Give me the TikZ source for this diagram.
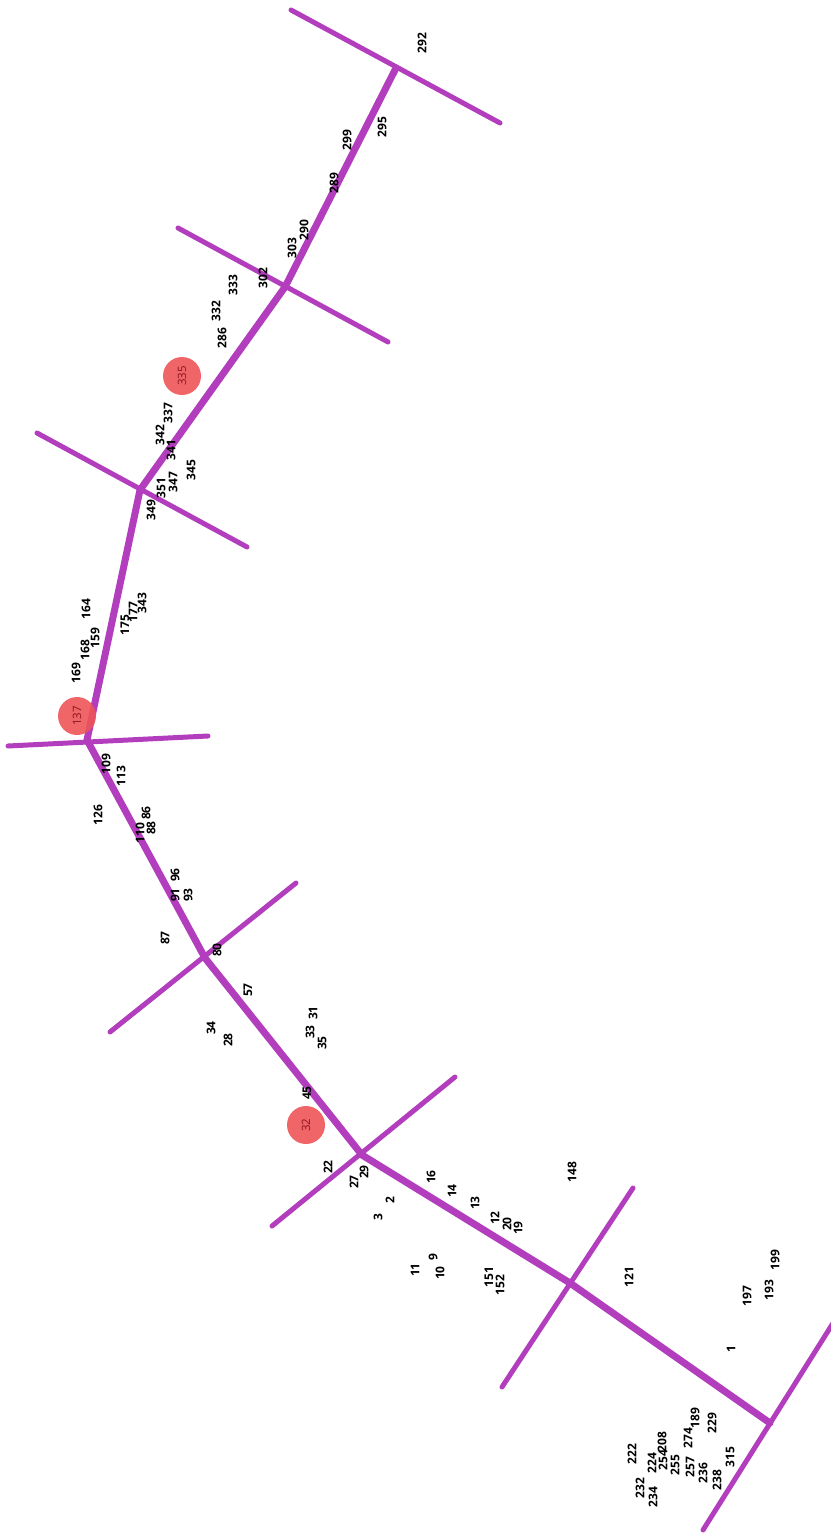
\documentclass[tikz,border=0pt]{standalone}
\usepackage{fontspec}
\setmainfont{Open Sans}
\usepackage{tikz}

\definecolor{wire}{RGB}{178,62,190}
\definecolor{spot}{RGB}{238,84,88}
\definecolor{spottext}{RGB}{140,20,30}

\tikzset{
 lbl/.style={rotate=90, inner sep=0pt, font=\bfseries\fontsize{12}{12}\selectfont},
 trunk/.style={wire, line width=7pt, line cap=round, line join=round},
 bar/.style={wire, line width=5pt, line cap=round},
 hot/.style={circle, fill=spot, fill opacity=0.9, text opacity=1, minimum size=38pt, inner sep=0pt, rotate=90, text=spottext, font=\fontsize{11.5}{11.5}\selectfont}
}

\begin{document}
\begin{tikzpicture}[x=1pt, y=-1pt]
 \useasboundingbox (0,0) rectangle (830,1533); % 枠

 \coordinate (j1) at (396,68); % 交点
 \coordinate (j2) at (285,287);
 \coordinate (j3) at (140,490);
 \coordinate (j4) at (87,740);
 \coordinate (j5) at (205,958);
 \coordinate (j6) at (362,1155);
 \coordinate (j7) at (570,1283);
 \coordinate (j8) at (770,1423);

 \coordinate (a1) at (291,10); \coordinate (b1) at (500,123); % 横棒の端
 \coordinate (a2) at (178,228); \coordinate (b2) at (388,342);
 \coordinate (a3) at (37,433); \coordinate (b3) at (247,547);
 \coordinate (a4) at (8,746); \coordinate (b4) at (208,736);
 \coordinate (a5) at (110,1032); \coordinate (b5) at (296,883);
 \coordinate (a6) at (272,1226); \coordinate (b6) at (455,1077);
 \coordinate (a7) at (502,1387); \coordinate (b7) at (633,1188);
 \coordinate (a8) at (703,1530); \coordinate (b8) at (840,1312);

 \draw[bar] (a1) -- (b1); % 横棒
 \draw[bar] (a2) -- (b2);
 \draw[bar] (a3) -- (b3);
 \draw[bar] (a4) -- (b4);
 \draw[bar] (a5) -- (b5);
 \draw[bar] (a6) -- (b6);
 \draw[bar] (a7) -- (b7);
 \draw[bar] (a8) -- (b8);

 \draw[trunk] (j1) -- (j2) -- (j3) -- (j4) -- (j5) -- (j6) -- (j7) -- (j8); % 幹線

 \node[hot] (h335) at (182,376) {335}; % 赤丸
 \node[hot] (h137) at (77,716) {137};
 \node[hot] (h32) at (306,1125) {32};

 % 上の区間
 \node[lbl] (n292) at (422,43) {292};
 \node[lbl] (n295) at (382,127) {295};
 \node[lbl] (n299) at (347,140) {299};
 \node[lbl] (n289) at (334,183) {289};
 \node[lbl] (n290) at (304,230) {290};
 \node[lbl] (n303) at (292,248) {303};
 \node[lbl] (n302) at (263,278) {302};
 \node[lbl] (n333) at (233,285) {333};
 \node[lbl] (n332) at (216,311) {332};
 \node[lbl] (n286) at (222,338) {286};
 \node[lbl] (n337) at (168,413) {337};
 \node[lbl] (n342) at (160,435) {342};
 \node[lbl] (n341) at (171,450) {341};
 \node[lbl] (n345) at (191,470) {345};
 \node[lbl] (n347) at (173,482) {347};
 \node[lbl] (n351) at (161,488) {351};
 \node[lbl] (n349) at (151,510) {349};

 % 中の区間
 \node[lbl] (n164) at (86,609) {164};
 \node[lbl] (n343) at (142,603) {343};
 \node[lbl] (n177) at (133,612) {177};
 \node[lbl] (n175) at (125,625) {175};
 \node[lbl] (n159) at (95,638) {159};
 \node[lbl] (n168) at (85,650) {168};
 \node[lbl] (n169) at (76,673) {169};
 \node[lbl] (n109) at (106,764) {109};
 \node[lbl] (n113) at (121,776) {113};
 \node[lbl] (n126) at (98,815) {126};
 \node[lbl] (n86) at (146,813) {86};
 \node[lbl] (n110) at (140,833) {110};
 \node[lbl] (n88) at (151,828) {88};
 \node[lbl] (n96) at (175,875) {96};
 \node[lbl] (n91) at (175,895) {91};
 \node[lbl] (n93) at (188,895) {93};
 \node[lbl] (n87) at (165,938) {87};
 \node[lbl] (n80) at (217,950) {80};
 \node[lbl] (n57) at (248,990) {57};
 \node[lbl] (n34) at (211,1028) {34};
 \node[lbl] (n28) at (228,1040) {28};
 \node[lbl] (n31) at (313,1013) {31};
 \node[lbl] (n33) at (310,1032) {33};
 \node[lbl] (n35) at (322,1043) {35};
 \node[lbl] (n45) at (307,1093) {45};

 % 下の区間
 \node[lbl] (n22) at (328,1167) {22};
 \node[lbl] (n27) at (354,1182) {27};
 \node[lbl] (n29) at (364,1172) {29};
 \node[lbl] (n16) at (431,1177) {16};
 \node[lbl] (n2) at (390,1200) {2};
 \node[lbl] (n14) at (452,1191) {14};
 \node[lbl] (n3) at (378,1217) {3};
 \node[lbl] (n13) at (475,1203) {13};
 \node[lbl] (n12) at (495,1218) {12};
 \node[lbl] (n20) at (507,1224) {20};
 \node[lbl] (n19) at (518,1228) {19};
 \node[lbl] (n9) at (433,1257) {9};
 \node[lbl] (n11) at (415,1270) {11};
 \node[lbl] (n10) at (440,1273) {10};
 \node[lbl] (n151) at (489,1277) {151};
 \node[lbl] (n152) at (500,1285) {152};
 \node[lbl] (n148) at (572,1172) {148};
 \node[lbl] (n121) at (629,1277) {121};
 \node[lbl] (n199) at (775,1260) {199};
 \node[lbl] (n197) at (747,1296) {197};
 \node[lbl] (n193) at (769,1290) {193};
 \node[lbl] (n1) at (731,1349) {1};

 % 末端
 \node[lbl] (n189) at (695,1418) {189};
 \node[lbl] (n229) at (712,1423) {229};
 \node[lbl] (n274) at (688,1438) {274};
 \node[lbl] (n208) at (662,1442) {208};
 \node[lbl] (n222) at (632,1454) {222};
 \node[lbl] (n224) at (652,1463) {224};
 \node[lbl] (n254) at (663,1460) {254};
 \node[lbl] (n255) at (675,1465) {255};
 \node[lbl] (n257) at (690,1467) {257};
 \node[lbl] (n315) at (730,1457) {315};
 \node[lbl] (n236) at (703,1473) {236};
 \node[lbl] (n238) at (717,1480) {238};
 \node[lbl] (n232) at (640,1488) {232};
 \node[lbl] (n234) at (653,1497) {234};
\end{tikzpicture}
\end{document}
